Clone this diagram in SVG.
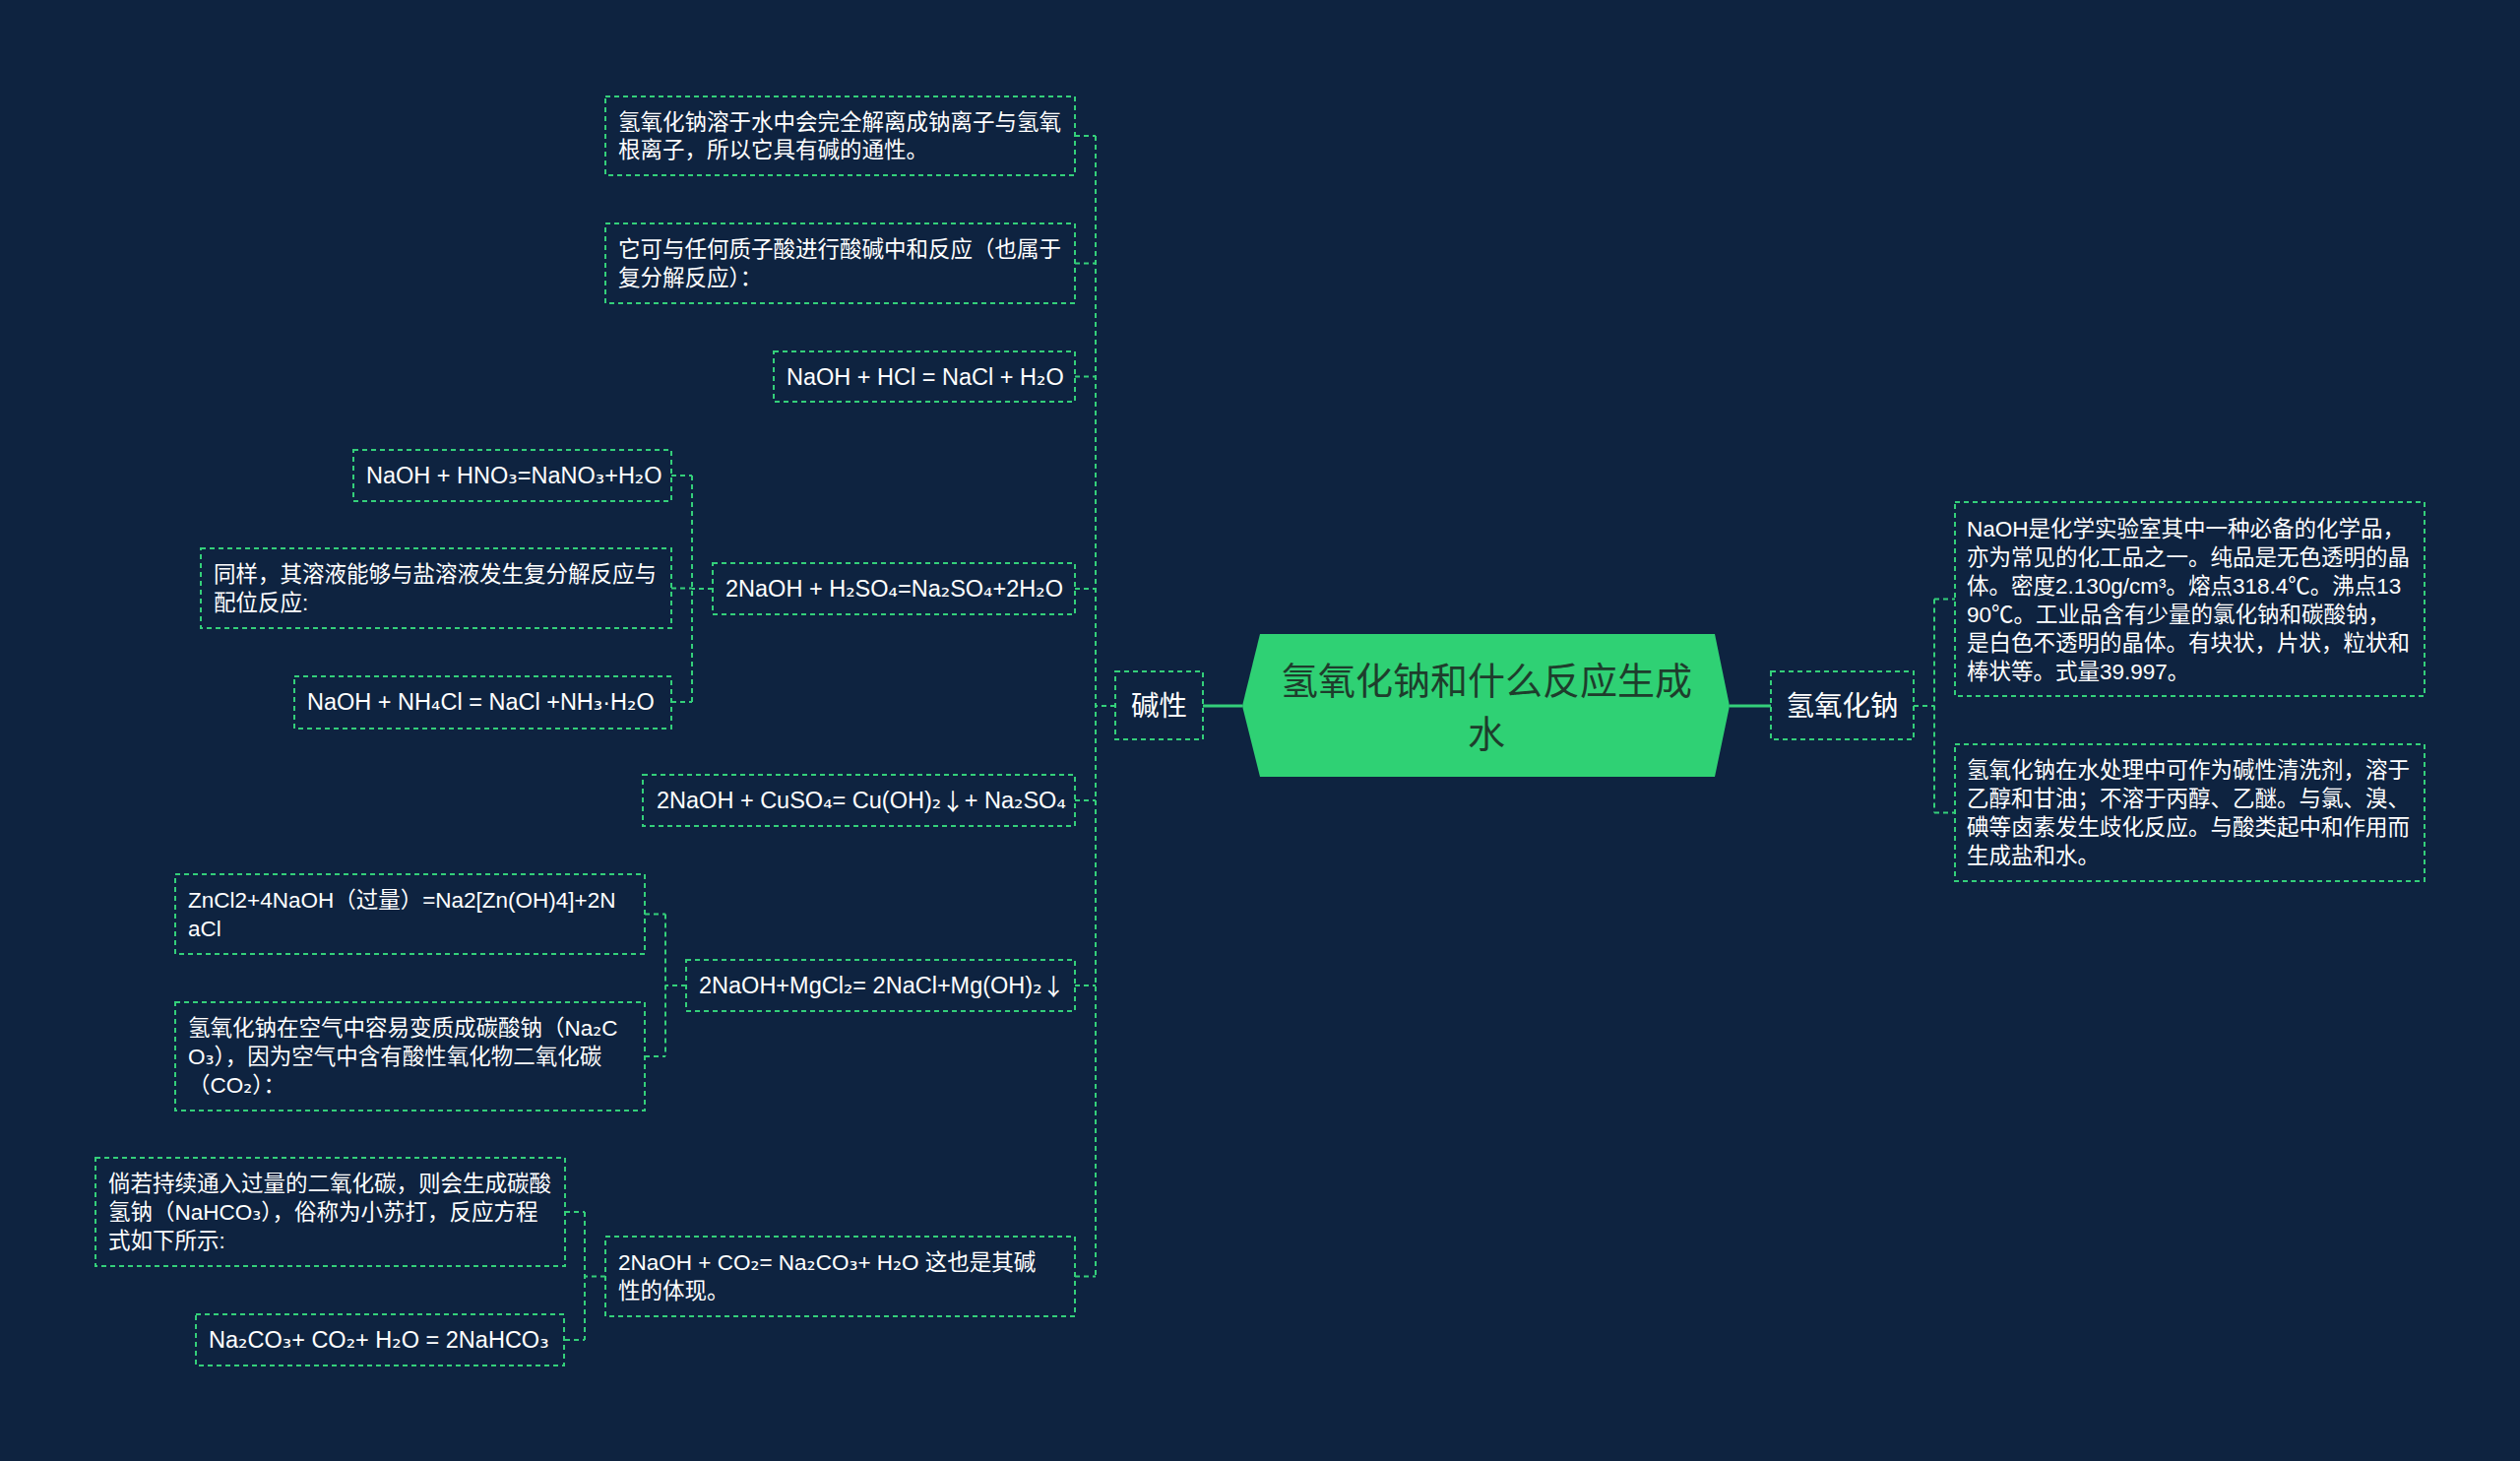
<svg xmlns="http://www.w3.org/2000/svg" width="2560" height="1484" viewBox="0 0 2560 1484">
<style>
.bg{fill:#0e2340}
.box{fill:#0e2340;stroke:#34cf7a;stroke-width:2;stroke-dasharray:5 4}
.ln{fill:none;stroke:#34cf7a;stroke-width:2;stroke-dasharray:5 4}
.solid{fill:none;stroke:#34cf7a;stroke-width:3}
.t{font-family:"Liberation Sans","Noto Sans CJK SC",sans-serif;font-size:22.5px;fill:#ffffff;dominant-baseline:central}
.f{font-size:23.5px}
.s{font-family:"DejaVu Sans","Noto Sans CJK SC",sans-serif}
.a{font-family:"Noto Sans CJK SC",sans-serif}
.m{font-family:"Liberation Sans","Noto Sans CJK SC",sans-serif;font-size:28.5px;fill:#ffffff;dominant-baseline:central;text-anchor:middle}
.r{font-family:"Liberation Sans","Noto Sans CJK SC",sans-serif;font-size:38px;fill:#1e3d2c;dominant-baseline:central;text-anchor:middle}
</style>
<rect class="bg" x="0" y="0" width="2560" height="1484"/>
<g id="connectors">
<path class="solid" d="M1222,717 H1262 M1757,717 H1799"/>
<path class="ln" d="M1133,717 H1113 M1113,138 V1297 M1092,138 H1113 M1092,267.5 H1113 M1092,382.5 H1113 M1092,598 H1113 M1092,813 H1113 M1092,1001 H1113 M1092,1296.5 H1113"/>
<path class="ln" d="M724,598 H703 M703,483 V713 M682,483 H703 M682,597.5 H703 M682,713 H703"/>
<path class="ln" d="M697,1001 H676 M676,928.5 V1073 M655,928.5 H676 M655,1073 H676"/>
<path class="ln" d="M615,1296.5 H594 M594,1231 V1361 M574,1231 H594 M574,1361 H594"/>
<path class="ln" d="M1944,717 H1965 M1965,608.5 V825.5 M1965,608.5 H1986 M1965,825.5 H1986"/>
</g>
<g id="root">
<polygon points="1280,644 1742,644 1757,717 1742,789 1280,789 1262,717" fill="#2fd174"/>
<text class="r" x="1510" y="692">氢氧化钠和什么反应生成</text>
<text class="r" x="1510" y="746">水</text>
</g>
<g id="n-jianxing">
<rect class="box" x="1133" y="682" width="89" height="69"/>
<text class="m" x="1177.5" y="716.5">碱性</text>
</g>
<g id="n-naoh">
<rect class="box" x="1799" y="682" width="145" height="69"/>
<text class="m" x="1871.5" y="716.5">氢氧化钠</text>
</g>
<g id="n-r1">
<rect class="box" x="1986" y="510" width="477" height="197"/>
<text class="t" x="1998" y="537">NaOH是化学实验室其中一种必备的化学品，</text>
<text class="t" x="1998" y="566">亦为常见的化工品之一。纯品是无色透明的晶</text>
<text class="t" x="1998" y="595">体。密度2.130g/cm³。熔点318.4℃。沸点13</text>
<text class="t" x="1998" y="624">90℃。工业品含有少量的氯化钠和碳酸钠，</text>
<text class="t" x="1998" y="653">是白色不透明的晶体。有块状，片状，粒状和</text>
<text class="t" x="1998" y="682">棒状等。式量39.997。</text>
</g>
<g id="n-r2">
<rect class="box" x="1986" y="756" width="477" height="139"/>
<text class="t" x="1998" y="782">氢氧化钠在水处理中可作为碱性清洗剂，溶于</text>
<text class="t" x="1998" y="811">乙醇和甘油；不溶于丙醇、乙醚。与氯、溴、</text>
<text class="t" x="1998" y="840">碘等卤素发生歧化反应。与酸类起中和作用而</text>
<text class="t" x="1998" y="869">生成盐和水。</text>
</g>
<g id="n-l1">
<rect class="box" x="615" y="98" width="477" height="80"/>
<text class="t" x="628" y="124">氢氧化钠溶于水中会完全解离成钠离子与氢氧</text>
<text class="t" x="628" y="152">根离子，所以它具有碱的通性。</text>
</g>
<g id="n-l2">
<rect class="box" x="615" y="227" width="477" height="81"/>
<text class="t" x="628" y="253">它可与任何质子酸进行酸碱中和反应（也属于</text>
<text class="t" x="628" y="282">复分解反应）：</text>
</g>
<g id="n-l3">
<rect class="box" x="786" y="357" width="306" height="51"/>
<text class="t f" x="799" y="382.5">NaOH + HCl = NaCl + H<tspan class="s">₂</tspan>O</text>
</g>
<g id="n-l4">
<rect class="box" x="724" y="572" width="368" height="52"/>
<text class="t f" x="737" y="598">2NaOH + H<tspan class="s">₂</tspan>SO<tspan class="s">₄</tspan>=Na<tspan class="s">₂</tspan>SO<tspan class="s">₄</tspan>+2H<tspan class="s">₂</tspan>O</text>
</g>
<g id="n-l4a">
<rect class="box" x="359" y="457" width="323" height="52"/>
<text class="t f" x="372" y="483">NaOH + HNO<tspan class="s">₃</tspan>=NaNO<tspan class="s">₃</tspan>+H<tspan class="s">₂</tspan>O</text>
</g>
<g id="n-l4b">
<rect class="box" x="204" y="557" width="478" height="81"/>
<text class="t" x="217" y="583">同样，其溶液能够与盐溶液发生复分解反应与</text>
<text class="t" x="217" y="612">配位反应:</text>
</g>
<g id="n-l4c">
<rect class="box" x="299" y="687" width="383" height="53"/>
<text class="t f" x="312" y="713">NaOH + NH<tspan class="s">₄</tspan>Cl = NaCl +NH<tspan class="s">₃</tspan>·H<tspan class="s">₂</tspan>O</text>
</g>
<g id="n-l5">
<rect class="box" x="653" y="787" width="439" height="52"/>
<text class="t f" x="667" y="813">2NaOH + CuSO<tspan class="s">₄</tspan>= Cu(OH)<tspan class="s">₂</tspan><tspan class="a">↓</tspan>+ Na<tspan class="s">₂</tspan>SO<tspan class="s">₄</tspan></text>
</g>
<g id="n-l6">
<rect class="box" x="697" y="975" width="395" height="52"/>
<text class="t f" x="710" y="1001">2NaOH+MgCl<tspan class="s">₂</tspan>= 2NaCl+Mg(OH)<tspan class="s">₂</tspan><tspan class="a">↓</tspan></text>
</g>
<g id="n-l6a">
<rect class="box" x="178" y="888" width="477" height="81"/>
<text class="t" x="191" y="914">ZnCl2+4NaOH（过量）=Na2[Zn(OH)4]+2N</text>
<text class="t" x="191" y="943">aCl</text>
</g>
<g id="n-l6b">
<rect class="box" x="178" y="1018" width="477" height="110"/>
<text class="t" x="191" y="1044">氢氧化钠在空气中容易变质成碳酸钠（Na<tspan class="s">₂</tspan>C</text>
<text class="t" x="191" y="1073">O<tspan class="s">₃</tspan>），因为空气中含有酸性氧化物二氧化碳</text>
<text class="t" x="191" y="1102">（CO<tspan class="s">₂</tspan>）：</text>
</g>
<g id="n-l7">
<rect class="box" x="615" y="1256" width="477" height="81"/>
<text class="t" x="628" y="1282">2NaOH + CO<tspan class="s">₂</tspan>= Na<tspan class="s">₂</tspan>CO<tspan class="s">₃</tspan>+ H<tspan class="s">₂</tspan>O 这也是其碱</text>
<text class="t" x="628" y="1311">性的体现。</text>
</g>
<g id="n-l7a">
<rect class="box" x="97" y="1176" width="477" height="110"/>
<text class="t" x="110" y="1202">倘若持续通入过量的二氧化碳，则会生成碳酸</text>
<text class="t" x="110" y="1231">氢钠（NaHCO<tspan class="s">₃</tspan>），俗称为小苏打，反应方程</text>
<text class="t" x="110" y="1260">式如下所示:</text>
</g>
<g id="n-l7b">
<rect class="box" x="199" y="1335" width="374" height="52"/>
<text class="t f" x="212" y="1361">Na<tspan class="s">₂</tspan>CO<tspan class="s">₃</tspan>+ CO<tspan class="s">₂</tspan>+ H<tspan class="s">₂</tspan>O = 2NaHCO<tspan class="s">₃</tspan></text>
</g>
</svg>
